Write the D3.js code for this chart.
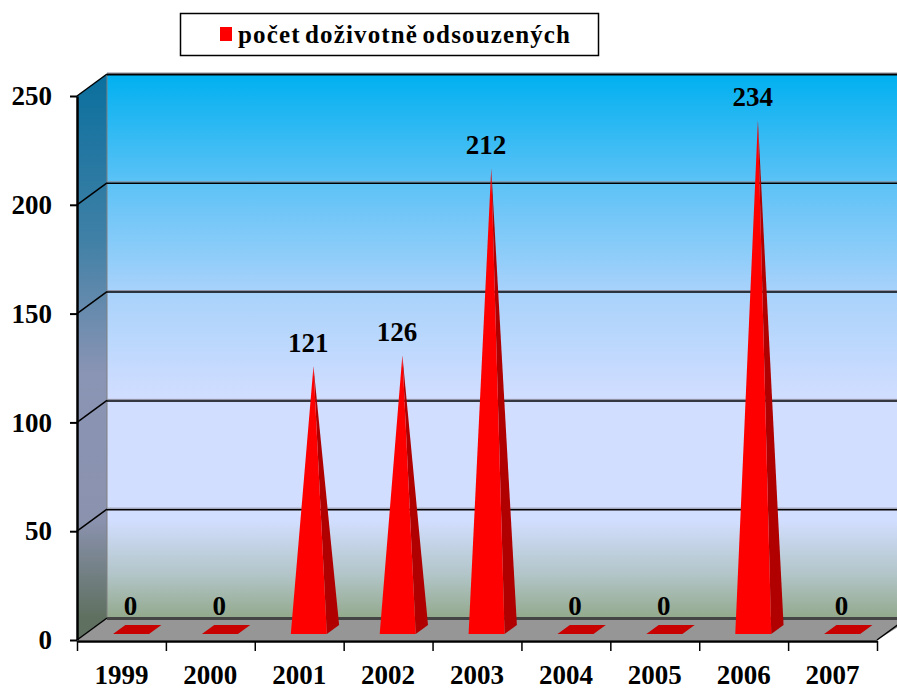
<!DOCTYPE html>
<html>
<head>
<meta charset="utf-8">
<title>počet doživotně odsouzených</title>
<script src="https://d3js.org/d3.v7.min.js"></script>
<style>
  html, body { margin: 0; padding: 0; background: #fff; overflow: hidden; }
  text { font-family: "Liberation Serif", serif; font-weight: bold; fill: #000; }
</style>
</head>
<body>
<script>
var years = ["1999", "2000", "2001", "2002", "2003", "2004", "2005", "2006", "2007"];
var counts = [0, 0, 121, 126, 212, 0, 0, 234, 0];
var yTicks = [0, 50, 100, 150, 200, 250];
var seriesName = "počet doživotně odsouzených";

var wallStops = [
  {o: 0, c: "#00b0f0"}, {o: 0.2, c: "#5cc2f6"}, {o: 0.4, c: "#a8d2fb"},
  {o: 0.6, c: "#d2deff"}, {o: 0.82, c: "#d2deff"}, {o: 0.92, c: "#b2c5c8"}, {o: 1, c: "#93a98c"}
];
var sideStops = [
  {o: 0, c: "#0a6f9e"}, {o: 0.3, c: "#3f80a6"}, {o: 0.55, c: "#8a94b4"},
  {o: 0.82, c: "#8a92ae"}, {o: 1, c: "#5f7060"}
];

var width = 897, height = 690;
var left = 77, bottom = 640, top250 = 96, right = 877;
var depthX = 30, depthY = 22;

var x = d3.scaleBand().domain(years).range([left, right]);
var xEdges = d3.scaleLinear().domain([0, years.length]).range([left, right]);
var y = d3.scaleLinear().domain([0, 250]).range([bottom, top250]);

// moves a point from the front plane back into the box
function px(v, d) { return v + depthX * d; }
function py(v, d) { return v - depthY * d; }
function pts(a) { return a.map(function(p) { return p.join(","); }).join(" "); }

var svg = d3.select("body").append("svg")
  .attr("width", width)
  .attr("height", height)
  .style("display", "block");

var defs = svg.append("defs");
function addGradient(id, stops) {
  defs.append("linearGradient")
    .attr("id", id)
    .attr("gradientUnits", "userSpaceOnUse")
    .attr("x1", 0).attr("x2", 0)
    .attr("y1", py(y(250), 1)).attr("y2", py(y(0), 1))
    .selectAll("stop").data(stops).enter().append("stop")
    .attr("offset", function(d) { return d.o; })
    .attr("stop-color", function(d) { return d.c; });
}
addGradient("wall", wallStops);
addGradient("side", sideStops);

// back wall
svg.append("rect")
  .attr("x", px(left, 1))
  .attr("y", py(y(250), 1))
  .attr("width", width - px(left, 1))
  .attr("height", y(0) - y(250))
  .attr("fill", "url(#wall)");

// left wall
svg.append("polygon")
  .attr("points", pts([[left, y(250)], [px(left, 1), py(y(250), 1)], [px(left, 1), py(y(0), 1)], [left, y(0)]]))
  .attr("fill", "url(#side)");
svg.append("line")
  .attr("x1", px(left, 1)).attr("x2", px(left, 1))
  .attr("y1", py(y(250), 1)).attr("y2", py(y(0), 1))
  .attr("stroke", "#808080");

// floor
svg.append("polygon")
  .attr("points", pts([[left, y(0)], [px(left, 1), py(y(0), 1)], [width + 5, py(y(0), 1)], [width + 5, py(y(0), 0.7)], [right, y(0)]]))
  .attr("fill", "#969696");

// grid lines, wall and side
var grid = svg.append("g");
grid.selectAll(".shade").data(yTicks.slice(1)).enter().append("line")
  .attr("x1", px(left, 1)).attr("x2", width)
  .attr("y1", function(d) { return py(y(d), 1) - 1; })
  .attr("y2", function(d) { return py(y(d), 1) - 1; })
  .attr("stroke", "#8a8a9a").attr("stroke-width", 1);
grid.selectAll(".back").data(yTicks.slice(1)).enter().append("line")
  .attr("x1", px(left, 1)).attr("x2", width)
  .attr("y1", function(d) { return py(y(d), 1) + 0.5; })
  .attr("y2", function(d) { return py(y(d), 1) + 0.5; })
  .attr("stroke", "#000").attr("stroke-width", function(d) { return d === 250 ? 2 : 1.5; });
grid.selectAll(".sideline").data(yTicks).enter().append("line")
  .attr("x1", left).attr("x2", px(left, 1))
  .attr("y1", function(d) { return y(d); })
  .attr("y2", function(d) { return py(y(d), 1); })
  .attr("stroke", "#000").attr("stroke-width", 1.5);
svg.append("line")
  .attr("x1", px(left, 1)).attr("x2", width)
  .attr("y1", py(y(0), 1) + 0.5).attr("y2", py(y(0), 1) + 0.5)
  .attr("stroke", "#444").attr("stroke-width", 3);
svg.append("line")
  .attr("x1", right).attr("x2", px(right, 0.7))
  .attr("y1", y(0)).attr("y2", py(y(0), 0.7))
  .attr("stroke", "#000").attr("stroke-width", 1.5);

// spikes
var baseHalf = 18, nudge = 1.5, d1 = 0.27, d2 = 0.68, dMid = (d1 + d2) / 2;
function cx(d) { return x(d) + x.bandwidth() / 2; }

var marks = svg.selectAll(".mark").data(years).enter().append("g").attr("class", "mark");

marks.append("polygon") // right side of spike, or the flat top of a zero
  .attr("points", function(d, i) {
    var c = cx(d), apex = [px(c, dMid), py(y(counts[i]), dMid)];
    var fr = [px(c + baseHalf, d1) + nudge, py(y(0), d1)];
    var br = [px(c + baseHalf, d2) + nudge, py(y(0), d2)];
    if (counts[i] === 0) {
      return pts([[px(c - baseHalf, d1) + nudge, py(y(0), d1)], fr, br, [px(c - baseHalf, d2) + nudge, py(y(0), d2)]]);
    }
    return pts([fr, br, apex]);
  })
  .attr("fill", function(d, i) { return counts[i] === 0 ? "#c80000" : "#b00000"; });

marks.filter(function(d, i) { return counts[i] > 0; }).append("polygon")
  .attr("points", function(d) {
    var i = years.indexOf(d), c = cx(d);
    return pts([
      [px(c - baseHalf, d1) + nudge, py(y(0), d1)],
      [px(c + baseHalf, d1) + nudge, py(y(0), d1)],
      [px(c, dMid), py(y(counts[i]), dMid)]
    ]);
  })
  .attr("fill", "#ff0000");

// value labels
svg.selectAll(".value").data(years).enter().append("text")
  .attr("class", "value")
  .attr("x", function(d) { return cx(d) + 9; })
  .attr("y", function(d, i) { return py(y(counts[i]), dMid) - 14.5; })
  .attr("text-anchor", "middle")
  .style("font-size", "27px")
  .text(function(d, i) { return counts[i]; });

// axes
var yAxis = svg.append("g")
  .attr("transform", "translate(" + left + ",0)")
  .call(d3.axisLeft(y).tickValues(yTicks).tickSize(7).tickPadding(18).tickSizeOuter(0));
var xTickAxis = svg.append("g")
  .attr("transform", "translate(0," + (bottom + 1) + ")")
  .call(d3.axisBottom(xEdges).tickValues(d3.range(years.length + 1)).tickSize(10).tickSizeOuter(0).tickFormat(""));
var xLabelAxis = svg.append("g")
  .attr("transform", "translate(0," + (bottom + 1) + ")")
  .call(d3.axisBottom(x).tickSize(0).tickPadding(24));
xLabelAxis.select(".domain").remove();
xTickAxis.select(".domain").attr("stroke-width", 2.5);
yAxis.select(".domain").attr("stroke-width", 2.5);
xTickAxis.selectAll("line").attr("stroke-width", 1.5);
yAxis.selectAll("line").attr("stroke-width", 2);
svg.selectAll(".tick text")
  .style("font-size", "27px")
  .style("font-family", "'Liberation Serif', serif")
  .style("font-weight", "bold")
  .attr("fill", "#000");

// legend
var legend = svg.append("g");
legend.append("rect")
  .attr("x", 180.5).attr("y", 13.5).attr("width", 418).attr("height", 42)
  .attr("fill", "#fff").attr("stroke", "#000").attr("stroke-width", 1.5);
legend.append("rect")
  .attr("x", 220).attr("y", 27).attr("width", 12).attr("height", 14)
  .attr("fill", "#ff0000");
legend.append("text")
  .attr("x", 238).attr("y", 43)
  .attr("textLength", 332)
  .style("font-size", "25px")
  .style("word-spacing", "-3px")
  .text(seriesName);
</script>
</body>
</html>
